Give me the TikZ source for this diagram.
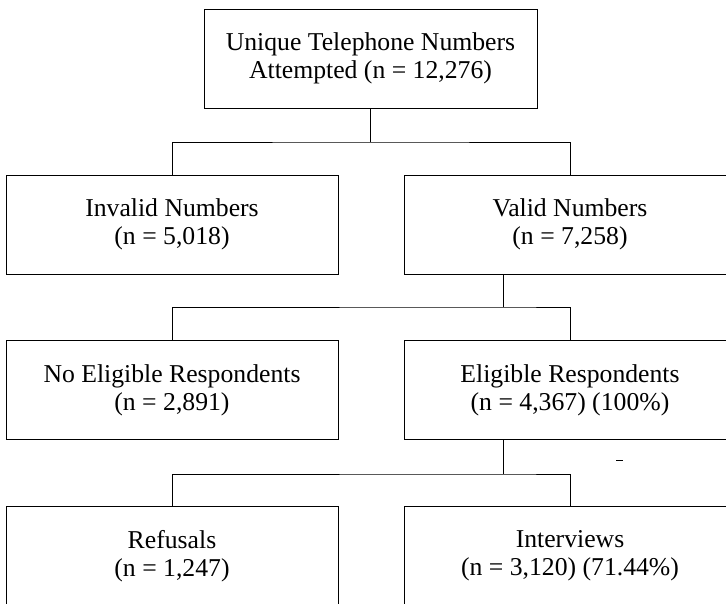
\documentclass[tikz,border=0pt]{standalone}
\usepackage{fontspec}
\setmainfont{Liberation Serif}
\begin{document}
\begin{tikzpicture}[x=1pt,y=-1pt,
  box/.style={draw, line width=1pt, minimum width=332pt, minimum height=99pt,
    inner sep=0pt, align=center, font=\fontsize{25.7}{28}\selectfont},
  conn/.style={line width=1pt}]
\useasboundingbox (0,0) rectangle (726,603);
\clip (0,0) rectangle (726,603);
\node[box, minimum width=333pt] (top) at (370.5,58.5) {Unique Telephone Numbers\\Attempted (n = 12,276)};
\node[box] (inv) at (172,224.5) {Invalid Numbers\\(n = 5,018)};
\node[box] (val) at (570,224.5) {Valid Numbers\\(n = 7,258)};
\node[box] (noe) at (172,390) {No Eligible Respondents\\(n = 2,891)};
\node[box] (eli) at (570,390) {Eligible Respondents\\(n = 4,367) (100\%)};
\node[box] (ref) at (172,556) {Refusals\\(n = 1,247)};
\node[box] (int) at (570,556) {Interviews\\(n = 3,120) (71.44\%)};
\coordinate (j1) at (370.5,142);
\coordinate (j2) at (503,307);
\coordinate (j3) at (503,474);
\draw[conn] (top.south) -- (j1);
\draw[conn] (inv.north) |- (j1) -| (val.north);
\draw[conn] (val.south -| j2) -- (j2);
\draw[conn] (noe.north) |- (j2) -| (eli.north);
\draw[conn] (eli.south -| j3) -- (j3);
\draw[conn] (ref.north) |- (j3) -| (int.north);
\draw[line width=0.8pt] (616,460) -- (623,460);
\end{tikzpicture}
\end{document}
